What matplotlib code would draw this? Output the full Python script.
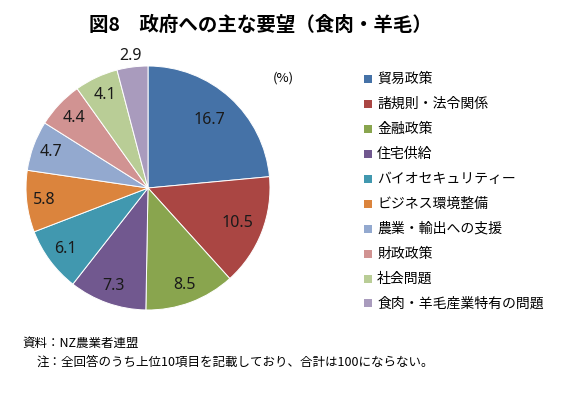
import matplotlib
matplotlib.use("Agg")
import matplotlib.pyplot as plt
from matplotlib.patches import Rectangle
import numpy as np

plt.rcParams['font.family'] = ['Noto Sans CJK JP', 'DejaVu Sans']

# data
categories = ['貿易政策', '諸規則・法令関係', '金融政策', '住宅供給', 'バイオセキュリティー',
              'ビジネス環境整備', '農業・輸出への支援', '財政政策', '社会問題', '食肉・羊毛産業特有の問題']
values = [16.7, 10.5, 8.5, 7.3, 6.1, 5.8, 4.7, 4.4, 4.1, 2.9]

colors = ['#4572A7', '#AA4643', '#89A54E', '#71588F', '#4198AF',
          '#DB843D', '#93A9CF', '#D19392', '#B9CD96', '#A99BBD']
# where each number sits, as fraction of radius
label_dist = [0.75, 0.79, 0.85, 0.85, 0.84, 0.86, 0.85, 0.83, 0.84, 1.09]

W, H = 581, 399
fig = plt.figure(figsize=(W / 100, H / 100), dpi=100)

# pie axes: center (148, 188) px, radius 122 px
lim = 1.15
R = 122
size = 2 * lim * R
cx, cy = 148, 188
ax = fig.add_axes([(cx - size / 2) / W, (H - cy - size / 2) / H, size / W, size / H])
wedges, _ = ax.pie(values, colors=colors, startangle=90, counterclock=False,
                   wedgeprops=dict(edgecolor='white', linewidth=0.7))
ax.set_xlim(-lim, lim)
ax.set_ylim(-lim, lim)
ax.set_aspect('equal')
ax.axis('off')

for w, v, d in zip(wedges, values, label_dist):
    th = np.deg2rad((w.theta1 + w.theta2) / 2)
    ax.text(d * np.cos(th), d * np.sin(th), f'{v:.1f}', ha='center', va='center',
            fontsize=11.5, family=['Noto Sans', 'DejaVu Sans'], color='#1a1a1a', clip_on=False)

# title
fig.text(260 / W, 1 - 25 / H, '図8　政府への主な要望（食肉・羊毛）', ha='center', va='center',
         fontsize=14, fontweight='bold')
fig.text(283 / W, 1 - 78 / H, '(%)', ha='center', va='center', fontsize=9.5)

# legend drawn by hand
y0, step = 79.3, 24.9
for i, (c, lab) in enumerate(zip(colors, categories)):
    yc = y0 + i * step
    fig.patches.append(Rectangle((364 / W, 1 - (yc + 4) / H), 8 / W, 8 / H,
                                 transform=fig.transFigure, facecolor=c, edgecolor='none'))
    fig.text(377 / W, 1 - yc / H, lab, ha='left', va='center', fontsize=10)

# notes
fig.text(22 / W, 1 - 343 / H, '資料：NZ農業者連盟', ha='left', va='center', fontsize=9)
fig.text(37 / W, 1 - 362 / H, '注：全回答のうち上位10項目を記載しており、合計は100にならない。',
         ha='left', va='center', fontsize=9)

fig.savefig('out.png', dpi=100)
